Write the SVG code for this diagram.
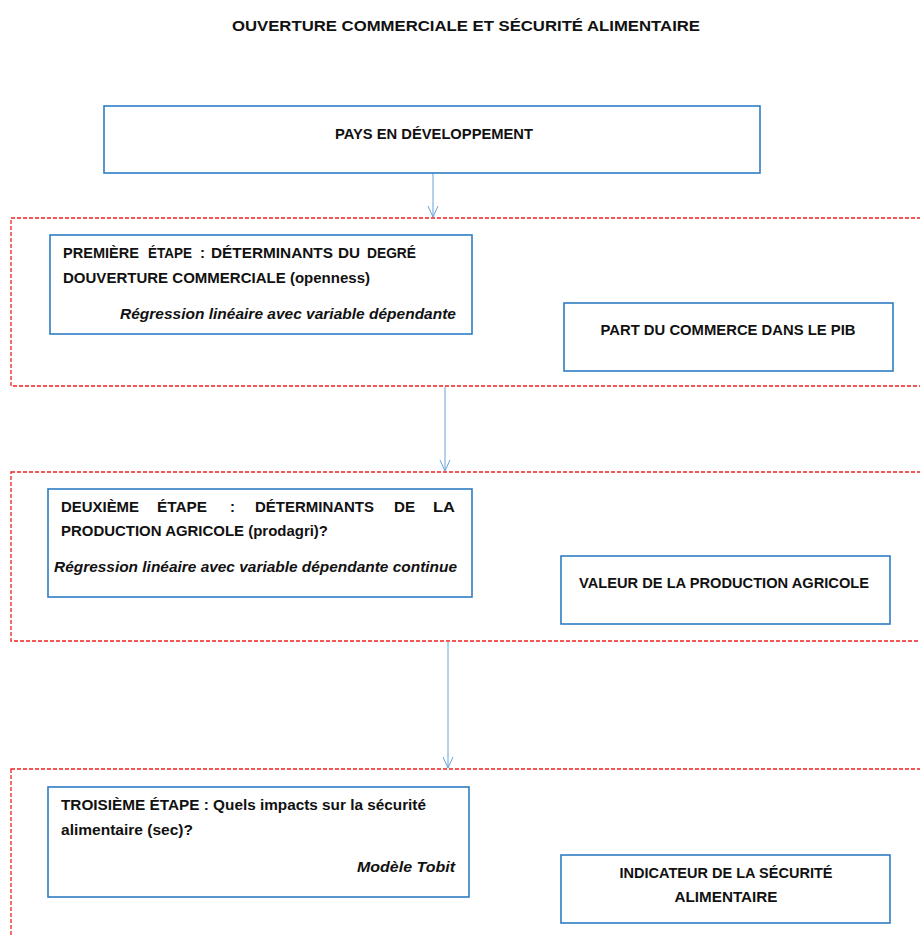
<svg xmlns="http://www.w3.org/2000/svg" width="920" height="935" viewBox="0 0 920 935">
  <style>
    .box { fill: #ffffff; stroke: #2e7cc4; stroke-width: 1.6; }
    .zone { fill: none; stroke: #f02020; stroke-width: 1.3; stroke-dasharray: 4 2; }
    .link { fill: none; stroke: #6aa2d8; stroke-width: 1; }
    .t { font-family: "Liberation Sans", Arial, sans-serif; font-size: 15px; font-weight: bold; fill: #111111; }
    .i { font-style: italic; }
    .c { text-anchor: middle; }
    .r { text-anchor: end; }
  </style>
  <defs>
    <marker id="arrow" viewBox="0 0 12 12" refX="11" refY="6" markerWidth="12" markerHeight="12" markerUnits="userSpaceOnUse" orient="auto">
      <path d="M0,1 L11,6 L0,11" fill="none" stroke="#6aa2d8" stroke-width="1"/>
    </marker>
  </defs>

  <rect width="920" height="935" fill="#ffffff"/>

  <text id="title" class="t c" x="466" y="31" textLength="468" lengthAdjust="spacingAndGlyphs">OUVERTURE COMMERCIALE ET SÉCURITÉ ALIMENTAIRE</text>

  <!-- dashed stage zones, open on the right -->
  <g id="zones">
    <rect class="zone" x="11" y="218" width="930" height="168"/>
    <rect class="zone" x="11" y="472" width="930" height="169"/>
    <rect class="zone" x="11" y="769" width="930" height="200"/>
  </g>

  <g id="connectors">
    <line class="link" x1="433" y1="173" x2="433" y2="217" marker-end="url(#arrow)"/>
    <line class="link" x1="445" y1="387" x2="445" y2="471" marker-end="url(#arrow)"/>
    <line class="link" x1="448" y1="642" x2="448" y2="768" marker-end="url(#arrow)"/>
  </g>

  <g id="pays">
    <rect class="box" x="104" y="106" width="656" height="67"/>
    <text class="t c" x="434" y="139" textLength="198" lengthAdjust="spacingAndGlyphs">PAYS EN DÉVELOPPEMENT</text>
  </g>

  <g id="etape1">
    <rect class="box" x="50" y="235" width="422" height="99"/>
    <text class="t" y="258">
      <tspan x="63" textLength="76" lengthAdjust="spacingAndGlyphs">PREMIÈRE</tspan>
      <tspan x="148" textLength="44" lengthAdjust="spacingAndGlyphs">ÉTAPE</tspan>
      <tspan x="200">:</tspan>
      <tspan x="211" textLength="122" lengthAdjust="spacingAndGlyphs">DÉTERMINANTS</tspan>
      <tspan x="338" textLength="22" lengthAdjust="spacingAndGlyphs">DU</tspan>
      <tspan x="367" textLength="49" lengthAdjust="spacingAndGlyphs">DEGRÉ</tspan>
    </text>
    <text class="t" x="63" y="283" textLength="307" lengthAdjust="spacingAndGlyphs">DOUVERTURE COMMERCIALE (openness)</text>
    <text class="t i" x="120" y="319" textLength="336" lengthAdjust="spacingAndGlyphs">Régression linéaire avec variable dépendante</text>
  </g>

  <g id="part-commerce">
    <rect class="box" x="564" y="303" width="329" height="68"/>
    <text class="t c" x="728" y="335" textLength="255" lengthAdjust="spacingAndGlyphs">PART DU COMMERCE DANS LE PIB</text>
  </g>

  <g id="etape2">
    <rect class="box" x="48" y="489" width="424" height="108"/>
    <text class="t" y="512">
      <tspan x="61" textLength="78" lengthAdjust="spacingAndGlyphs">DEUXIÈME</tspan>
      <tspan x="157" textLength="50" lengthAdjust="spacingAndGlyphs">ÉTAPE</tspan>
      <tspan x="230">:</tspan>
      <tspan x="255" textLength="119" lengthAdjust="spacingAndGlyphs">DÉTERMINANTS</tspan>
      <tspan x="394" textLength="21" lengthAdjust="spacingAndGlyphs">DE</tspan>
      <tspan x="433" textLength="22" lengthAdjust="spacingAndGlyphs">LA</tspan>
    </text>
    <text class="t" x="61" y="536" textLength="267" lengthAdjust="spacingAndGlyphs">PRODUCTION AGRICOLE (prodagri)?</text>
    <text class="t i" x="54" y="572" textLength="403" lengthAdjust="spacingAndGlyphs">Régression linéaire avec variable dépendante continue</text>
  </g>

  <g id="valeur-production">
    <rect class="box" x="561" y="556" width="329" height="68"/>
    <text class="t c" x="724" y="588" textLength="290" lengthAdjust="spacingAndGlyphs">VALEUR DE LA PRODUCTION AGRICOLE</text>
  </g>

  <g id="etape3">
    <rect class="box" x="48" y="787" width="421" height="110"/>
    <text class="t" x="61" y="810" textLength="365" lengthAdjust="spacingAndGlyphs">TROISIÈME ÉTAPE : Quels impacts sur la sécurité</text>
    <text class="t" x="61" y="835" textLength="132" lengthAdjust="spacingAndGlyphs">alimentaire (sec)?</text>
    <text class="t i r" x="455" y="872" textLength="98" lengthAdjust="spacingAndGlyphs">Modèle Tobit</text>
  </g>

  <g id="indicateur">
    <rect class="box" x="561" y="855" width="329" height="68"/>
    <text class="t c" x="726" y="878" textLength="213" lengthAdjust="spacingAndGlyphs">INDICATEUR DE LA SÉCURITÉ</text>
    <text class="t c" x="726" y="902" textLength="103" lengthAdjust="spacingAndGlyphs">ALIMENTAIRE</text>
  </g>
</svg>
